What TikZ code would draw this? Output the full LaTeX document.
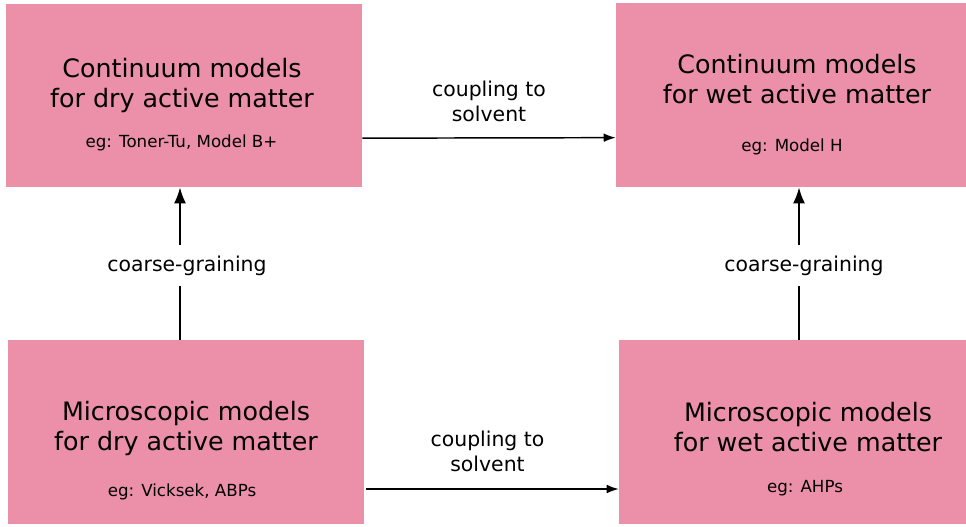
\documentclass[tikz,border=0pt]{standalone}
\usepackage{fontspec}
\setmainfont{DejaVu Sans}
\usepackage{tikz}
\usetikzlibrary{arrows.meta,positioning}
\definecolor{boxpink}{RGB}{236,144,170}

\begin{document}
\begin{tikzpicture}[x=0.75pt,y=-0.75pt,
    box/.style={fill=boxpink,draw=none,inner sep=0pt},
    title/.style={align=center,font=\fontsize{19}{22.5}\selectfont,inner sep=0pt},
    eg/.style={font=\fontsize{12.5}{15}\selectfont,anchor=base,inner sep=0pt},
    lbl/.style={align=center,font=\fontsize{15.3}{18.75}\selectfont,inner sep=0pt},
    hflow/.style={-{Latex[length=9pt,width=6.5pt]},line width=1.1pt},
    vflow/.style={-{Latex[length=12pt,width=9pt]},line width=1.6pt}
  ]
    \useasboundingbox (0,0) rectangle (966,527);
    \node[box,minimum width=267pt,minimum height=137.25pt] (contdry) at (184,95.5) {};
    \node[box,minimum width=262.5pt,minimum height=138pt] (contwet) at (791,95) {};
    \node[box,minimum width=267pt,minimum height=138pt] (micdry) at (186,432) {};
    \node[box,minimum width=260.25pt,minimum height=138pt] (micwet) at (792.5,432) {};
    \node[title] (contdrytxt) at (182,85.4) {Continuum models\\for dry active matter};
    \node[title] (contwettxt) at (797,79.3) {Continuum models\\for wet active matter};
    \node[title] (micdrytxt) at (186,428.9) {Microscopic models\\for dry active matter};
    \node[title] (micwettxt) at (808,427.4) {Microscopic models\\for wet active matter};
    \node[eg] (contdryeg) at (181.5,148) {eg: Toner-Tu, Model B+};
    \node[eg] (contweteg) at (792,152) {eg: Model H};
    \node[eg] (micdryeg) at (182,496) {eg: Vicksek, ABPs};
    \node[eg] (micweteg) at (805,492) {eg: AHPs};
    \draw[hflow] ([yshift=-32pt]contdry.east) --
      node[lbl,above=11.25pt] (cpltop) {coupling to\\solvent} ([yshift=-32pt]contwet.west);
    \draw[hflow,shorten <=1.5pt] ([yshift=-42.75pt]micdry.east) --
      node[lbl,above=12pt,xshift=-3pt] (cplbot) {coupling to\\solvent} ([yshift=-42.75pt]micwet.west);
    \draw[vflow] ([xshift=-4.5pt]micdry.north) --
      node[lbl,fill=white,inner ysep=8pt,inner xsep=2pt,xshift=5.25pt,yshift=-1.5pt] (cgdry) {coarse-graining}
      ([xshift=-3pt]contdry.south);
    \draw[vflow] ([xshift=4.875pt]micwet.north) --
      node[lbl,fill=white,inner ysep=8pt,inner xsep=2pt,xshift=3.75pt,yshift=-1.5pt] (cgwet) {coarse-graining}
      ([xshift=6pt]contwet.south);
  \end{tikzpicture}
\end{document}
